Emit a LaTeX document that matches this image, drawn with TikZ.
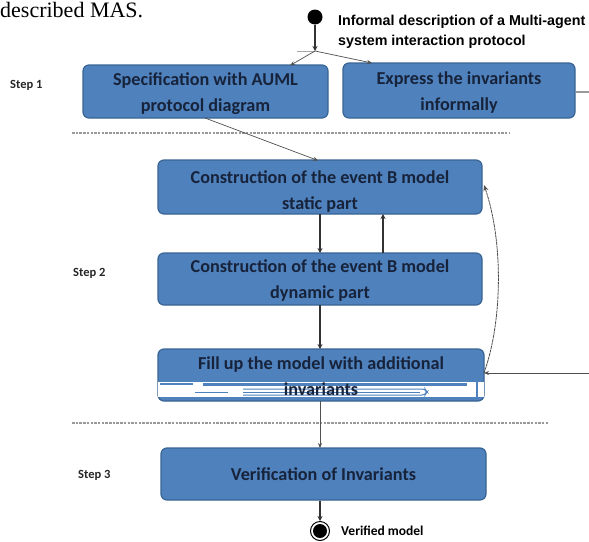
\documentclass[tikz,border=0pt]{standalone}
\usepackage{fontspec}
\setmainfont{Carlito}
\newfontfamily\serifx{Liberation Serif}
\newfontfamily\sansx{Liberation Sans}
\usetikzlibrary{arrows.meta}
\definecolor{boxfill}{HTML}{4F81BD}
\definecolor{boxline}{HTML}{3A6494}
\definecolor{boxtext}{HTML}{17233A}
\definecolor{linegray}{HTML}{505050}
\tikzset{
  procbox/.style={draw=boxline, line width=1.2pt, fill=boxfill, rounded corners=6pt,
    text=boxtext, font=\bfseries\fontsize{18.2}{26}\selectfont, align=center, inner sep=0pt},
  twoline/.style={text height=39pt, text depth=0pt},
  conn/.style={draw=linegray, line width=0.7pt, -{Stealth[length=5pt,width=4pt]}},
  thick conn/.style={draw=black!80, line width=1.8pt, -{Stealth[length=5pt,width=5pt]}},
  sep/.style={draw=gray!80, line width=1.2pt, dash pattern=on 2.5pt off 1.2pt},
  steplabel/.style={font=\bfseries\fontsize{12.5}{14}\selectfont, text=black!85, inner sep=0pt},
}
\begin{document}
\begin{tikzpicture}[x=1pt,y=-1pt]
\useasboundingbox (0,0) rectangle (589,541);
\fill[white] (0,0) rectangle (589,541);
% surrounding page text
\node[anchor=base west, inner sep=0pt, font=\serifx\fontsize{22}{24}\selectfont] (prev) at (0,17) {described MAS.};
% start
\node[circle, fill=black, minimum width=13pt, minimum height=15pt, inner sep=0pt] (start) at (315,17) {};
\node[anchor=north west, inner sep=0pt, align=left, font=\sansx\bfseries\fontsize{14.3}{20}\selectfont] (informal) at (338,14.5) {Informal description of a Multi-agent\\system interaction protocol};
\coordinate (fork) at (315,51);
% boxes
\node[procbox, twoline, minimum width=245pt, minimum height=53pt] (spec) at (205.5,91.5) {Specification with AUML\\protocol diagram};
\node[procbox, twoline, minimum width=232pt, minimum height=55pt] (express) at (459,90.5) {Express the invariants\\informally};
\node[procbox, twoline, text height=44pt, minimum width=324pt, minimum height=54pt] (static) at (320,187) {Construction of the event B model\\static part};
\node[procbox, twoline, minimum width=324pt, minimum height=52pt] (dynamic) at (320,279) {Construction of the event B model\\dynamic part};
\node[procbox, minimum width=326pt, minimum height=52pt] (fill) at (321,375) {};
% rendering glitch over the bottom of the fill box
\fill[white] (158,382) rectangle (484,397);
\fill[boxfill] (160,382.5) rectangle (193,384.5);
\fill[boxfill] (203,382.5) rectangle (467,385.5);
\fill[boxfill] (195,391.5) rectangle (228,393);
\draw[boxfill, line width=1pt, rounded corners=3pt] (243,389) -- (425,389) -- (427,392) -- (425,395) -- (243,395);
\draw[boxfill, line width=0.8pt] (243,392) -- (420,392);
\fill[boxfill] (476,380) rectangle (478,397);
\node[align=center, text=boxtext, font=\bfseries\fontsize{18.2}{26}\selectfont, inner sep=0pt] (filltext) at (321,376.5) {Fill up the model with additional\\invariants};
\node[procbox, minimum width=325pt, minimum height=52pt] (verif) at (323.5,474) {Verification of Invariants};
% end
\node[circle, draw=black, line width=1pt, fill=white, minimum size=19pt, inner sep=0pt] (endring) at (320,531) {};
\node[circle, fill=black, minimum size=14pt, inner sep=0pt] (enddot) at (320,531) {};
\node[anchor=west, inner sep=0pt, font=\bfseries\fontsize{13.5}{15}\selectfont] (verified) at (341,531) {Verified model};
% step labels
\node[steplabel, anchor=west] (s1) at (10,85) {Step 1};
\node[steplabel, anchor=west] (s2) at (73,273) {Step 2};
\node[steplabel, anchor=west] (s3) at (78,475) {Step 3};
% separators
\draw[sep] (72,133) -- (510,133);
\draw[sep] (72,423) -- (548,423);
% connectors
\draw[draw=black!80, line width=1.6pt, -{Stealth[length=5pt,width=5pt]}] (start) -- (fork);
\draw[draw=gray!70, line width=1pt] (297,51) -- (fork);
\draw[conn] (fork) -- (290,65.5);
\draw[conn] (fork) -- (372,63);
\draw[conn] (205,118) -- (318,160.5);
\draw[thick conn] (320,214) -- (320,253);
\draw[thick conn] (383,253) -- (383,214);
\draw[thick conn] (320,305) -- (320,349);
\draw[conn] (320,401) -- (320,448);
\draw[thick conn] (verif.south -| enddot) -- (endring.north);
\coordinate (offA) at (589,92);
\coordinate (offB) at (589,373);
\draw[draw=gray!80, line width=1.2pt] (express.east |- offA) -- (offA);
\draw[conn] (offB) -- (484,373);
\draw[draw=gray!60!black, line width=0.8pt, dash pattern=on 3pt off 0.6pt, -{Stealth[length=6pt,width=5pt,open]}] (484,373) .. controls (503,320) and (503,240) .. (484,185);
\end{tikzpicture}
\end{document}
